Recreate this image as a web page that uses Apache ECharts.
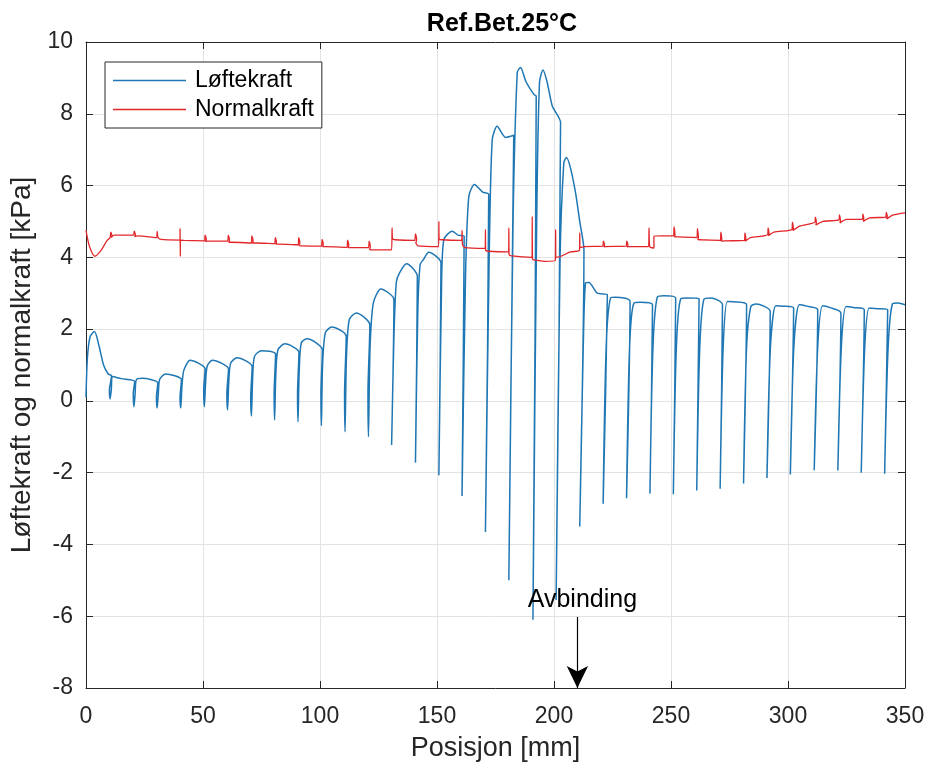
<!DOCTYPE html>
<html>
<head>
<meta charset="utf-8">
<script src="https://cdn.jsdelivr.net/npm/echarts@6/dist/echarts.min.js"></script>
<style>html,body{margin:0;padding:0;background:#fff;}#c{width:931px;height:771px;}</style>
</head>
<body>
<div id="c"></div>
<script>
// Løftekraft [x mm, kPa]
const liftPoints = [
 [0,0.1],[0.6,1.2],[1.8,1.8],[3.6,1.93],[5.5,1.55],[7.5,1.0],[9.5,0.75],[10.9,0.7],
 [10.0,0.3],[10.3,0.05],[10.8,0.3],[11.4,0.68],
 [15,0.62],[20.8,0.54],
 [20.2,0.2],[20.5,-0.16],[21.0,0.2],[21.5,0.59],
 [24,0.63],[30.7,0.5],
 [30.1,0.1],[30.4,-0.2],[30.9,0.2],[31.5,0.6],
 [34,0.75],[40.8,0.59],
 [40.2,0.1],[40.5,-0.2],[41.0,0.4],[41.8,0.85],
 [44.5,1.13],[50.9,0.89],
 [50.3,0.3],[50.6,-0.16],[51.1,0.5],[51.8,0.97],
 [54,1.13],[60.9,0.89],
 [60.2,0.2],[60.5,-0.25],[61.0,0.5],[61.8,1.05],
 [64.5,1.2],[71.0,0.95],
 [70.4,0.1],[70.7,-0.42],[71.2,0.6],[72.0,1.24],
 [75,1.4],[81.0,1.3],
 [80.4,0.2],[80.6,-0.53],[81.1,0.7],[82.0,1.42],
 [85,1.59],[91.0,1.35],
 [90.4,0.2],[90.6,-0.58],[91.1,0.8],[92.0,1.62],
 [94.5,1.73],[101.0,1.42],
 [100.4,0.2],[100.6,-0.69],[101.1,1.0],[102.3,1.9],
 [105,2.06],[111.2,1.8],
 [110.5,0.2],[110.7,-0.86],[111.3,1.2],[112.5,2.26],
 [115.5,2.45],[121.3,2.12],
 [120.5,0.2],[120.7,-1.0],[121.4,1.5],[122.8,2.73],
 [126,3.12],[131.6,2.82],
 [130.6,-1.23],[131.6,1.8],[132.6,3.3],[134,3.57],
 [137,3.82],[141.6,3.47],
 [140.8,-1.72],[141.8,2.5],[142.8,3.8],[144.2,3.94],
 [146.5,4.14],[151.7,3.85],
 [150.8,-2.07],[151.9,3.0],[152.9,4.49],
 [156.5,4.73],[159,4.62],[161.6,4.59],
 [160.7,-2.65],[162.2,3.5],[163.6,5.7],
 [166,6.03],[169.5,5.82],[172.1,5.75],
 [170.7,-3.65],[172.3,4.0],[173.6,7.28],
 [175.7,7.65],[179.3,7.34],[182.8,7.4],
 [180.7,-5.0],[182.5,5.0],[184.3,9.15],
 [185.7,9.29],[188,8.9],[191.4,8.54],[192.4,8.49],
 [191.0,-6.1],[192.6,5.0],[193.8,8.87],
 [195.3,9.22],[197,8.9],[199.3,8.21],[202.8,7.76],
 [200.9,-5.55],[202.6,4.0],[204.2,6.64],
 [205.3,6.78],[207,6.5],[209.2,5.8],[211,5.0],[212.8,4.2],
 [211.0,-3.5],[212.5,1.5],[213.5,3.29],
 [214.9,3.3],[218.5,3.0],[222.8,2.96],
 [221.0,-2.85],[222.3,1.5],[224.2,2.87],
 [226.4,2.89],[232.5,2.77],
 [231.0,-2.71],[232.3,1.5],[234.2,2.73],
 [237,2.75],[242.1,2.68],
 [241.0,-2.58],[242.3,1.5],[244.2,2.9],
 [247,2.93],[252,2.87],
 [251.0,-2.6],[252.3,1.5],[254.2,2.85],
 [257,2.87],[262,2.85],
 [261.0,-2.5],[262.3,1.5],[264.1,2.84],
 [267,2.87],[272,2.68],
 [271.0,-2.45],[272.3,1.5],[274.1,2.77],
 [277,2.76],[282.3,2.68],
 [281.0,-2.3],[282.3,1.5],[284.1,2.63],
 [286.3,2.7],[292.4,2.49],
 [291.0,-2.15],[292.5,1.5],[294.8,2.65],
 [298,2.64],[302.4,2.59],
 [301.0,-2.05],[302.5,1.5],[304.8,2.68],
 [308,2.64],[312.7,2.54],
 [311.2,-1.93],[312.7,1.5],[314.8,2.65],
 [318,2.6],[322.6,2.45],
 [321.3,-1.94],[322.8,1.5],[324.8,2.63],
 [328,2.6],[332.6,2.54],
 [331.3,-2.0],[332.8,1.5],[334.7,2.59],
 [338,2.57],[342.6,2.54],
 [341.3,-2.03],[342.8,1.5],[344.7,2.71],
 [347,2.73],[350,2.68]
];

// Normalkraft [x mm, kPa]
const normalPoints = [
 [0,4.75],[1.5,4.3],[3.8,4.03],[6.5,4.2],[9.0,4.47],
 [10.3,4.55],[10.6,4.7],[11.1,4.6],[10.8,4.55],[12,4.62],
 [20.3,4.62],[20.6,4.73],[21.1,4.62],[20.8,4.58],[22,4.6],
 [30.2,4.55],[30.4,4.72],[30.8,4.55],[32,4.5],
 [40.2,4.48],[40.2,4.8],[40.3,4.03],[40.4,4.48],[42,4.47],
 [50.6,4.46],[50.9,4.62],[51.4,4.5],[51.1,4.44],[52,4.45],
 [60.5,4.45],[60.8,4.62],[61.3,4.48],[61,4.42],[62,4.42],
 [70.6,4.4],[70.9,4.6],[71.4,4.45],[71.1,4.4],[72,4.4],
 [80.6,4.38],[80.9,4.55],[81.4,4.42],[81.1,4.37],[82,4.37],
 [90.6,4.35],[90.9,4.55],[91.4,4.4],[91.1,4.33],[92,4.32],
 [100.6,4.31],[100.9,4.5],[101.4,4.36],[101.1,4.3],[102,4.3],
 [111.5,4.28],[111.8,4.48],[112.3,4.34],[112,4.27],[113,4.27],
 [120.7,4.27],[121,4.45],[121.5,4.3],[121.2,4.22],[122,4.21],
 [130.6,4.21],[130.8,4.82],[131.0,4.52],[132,4.49],
 [140.4,4.47],[140.8,4.65],[141.3,4.5],[141,4.4],[142,4.32],
 [150.7,4.3],[150.8,5.0],[150.9,4.52],[152,4.49],
 [160.5,4.47],[160.7,4.75],[160.9,4.35],[162,4.27],
 [170.6,4.25],[170.7,4.77],[170.8,4.2],[172,4.17],
 [180.6,4.15],[180.7,4.82],[180.8,4.08],[182,4.04],
 [190.6,4.0],[190.7,5.14],[190.8,3.95],[192,3.92],[196,3.89],
 [200.6,3.92],[200.7,4.77],[200.8,4.0],[203,4.03],[207,4.15],
 [210.9,4.2],[211,4.68],[211.1,4.27],[213,4.3],
 [220.8,4.31],[221.1,4.45],[221.6,4.35],[221.3,4.29],[222,4.3],
 [230.8,4.31],[231.1,4.45],[231.6,4.35],[231.3,4.29],[232,4.3],
 [240.4,4.3],[240.6,4.82],[240.9,4.3],[242.7,4.26],[242.7,4.59],[246,4.6],
 [251.1,4.6],[251.3,4.85],[251.7,4.62],[251.5,4.57],[253,4.57],
 [261.1,4.55],[261.3,4.8],[261.7,4.55],[261.5,4.5],[263,4.49],
 [271.1,4.47],[271.3,4.7],[271.7,4.5],[271.5,4.45],[273,4.46],
 [281.4,4.47],[281.6,4.68],[282,4.5],[281.8,4.45],[284,4.55],
 [291.3,4.63],[291.5,4.82],[291.9,4.65],[291.7,4.6],[294,4.7],
 [301.7,4.78],[301.9,4.98],[302.3,4.8],[302.1,4.75],[305,4.87],
 [311.5,4.98],[311.7,5.12],[312.1,4.98],[311.9,4.9],[315,5.0],
 [321.8,5.05],[322,5.18],[322.4,5.03],[322.2,4.96],[325,5.06],
 [331.8,5.06],[332,5.2],[332.4,5.07],[332.2,5.0],[335,5.1],
 [341.8,5.12],[342,5.25],[342.4,5.15],[342.2,5.07],[345,5.18],
 [350,5.24]
];

const xTicks = {min: 0, max: 350, step: 50};
const yTicks = {min: -8, max: 10, step: 2};
const annotationX = 210;
const annotationYTop = -6.02;

const FONT = "'Liberation Sans', Arial, Helvetica, sans-serif";
const TXT = '#262626';
const GRIDC = '#e3e3e3';

const chart = echarts.init(document.getElementById('c'), null, {renderer: 'canvas'});

function mkX(pos, labels) {
  return {
    type: 'value', position: pos, min: xTicks.min, max: xTicks.max, interval: xTicks.step,
    axisLine: {show: true, onZero: false, lineStyle: {color: TXT, width: 1}},
    axisTick: {show: true, inside: true, length: 7, lineStyle: {color: TXT}},
    axisLabel: {show: labels, fontSize: 23, color: TXT, fontFamily: FONT, margin: 17},
    splitLine: {show: labels, lineStyle: {color: GRIDC, width: 1}},
    name: labels ? 'Posisjon [mm]' : '', nameLocation: 'middle', nameGap: 47,
    nameTextStyle: {fontSize: 27, color: TXT, fontFamily: FONT}
  };
}
function mkY(pos, labels) {
  return {
    type: 'value', position: pos, min: yTicks.min, max: yTicks.max, interval: yTicks.step,
    axisLine: {show: true, onZero: false, lineStyle: {color: TXT, width: 1}},
    axisTick: {show: true, inside: true, length: 7, lineStyle: {color: TXT}},
    axisLabel: {show: labels, fontSize: 23, color: TXT, fontFamily: FONT, margin: 13},
    splitLine: {show: labels, lineStyle: {color: GRIDC, width: 1}},
    name: labels ? 'Løftekraft og normalkraft [kPa]' : '', nameLocation: 'middle', nameGap: 42,
    nameRotate: 90,
    nameTextStyle: {fontSize: 28, color: TXT, fontFamily: FONT}
  };
}

chart.setOption({
  animation: false,
  backgroundColor: '#fff',
  title: {
    text: 'Ref.Bet.25°C', left: 497, top: 7, textAlign: 'center',
    textStyle: {fontSize: 25, fontWeight: 'bold', color: '#000', fontFamily: FONT}
  },
  grid: {left: 86, top: 42, right: 26, bottom: 83, containLabel: false},
  legend: {
    orient: 'vertical', left: 105, top: 62, icon: 'rect',
    padding: [7, 8, 7, 8], itemGap: 6, itemWidth: 73, itemHeight: 1.5,
    backgroundColor: '#fff', borderColor: TXT, borderWidth: 1,
    textStyle: {fontSize: 23, color: '#000', fontFamily: FONT, lineHeight: 23, padding: [0, 0, 0, 4]},
    data: ['Løftekraft', 'Normalkraft']
  },
  xAxis: [mkX('bottom', true), mkX('top', false)],
  yAxis: [mkY('left', true), mkY('right', false)],
  series: [
    {
      name: 'Løftekraft', type: 'line', data: liftPoints, showSymbol: false, symbol: 'none',
      smooth: 0.25, lineStyle: {color: '#1f77b4', width: 1.5}, itemStyle: {color: '#1f77b4'},
      z: 3,
      markLine: {
        silent: true, symbol: ['none', 'arrow'], symbolSize: [16, 22], animation: false,
        lineStyle: {color: '#000', width: 1.2, type: 'solid'},
        label: {show: true, position: 'start', formatter: 'Avbinding', fontSize: 25,
                color: '#000', fontFamily: FONT, distance: 4, offset: [5, 0]},
        emphasis: {disabled: true},
        data: [[{coord: [annotationX, annotationYTop]}, {coord: [annotationX, yTicks.min]}]]
      }
    },
    {
      name: 'Normalkraft', type: 'line', data: normalPoints, showSymbol: false, symbol: 'none',
      smooth: 0.25, lineStyle: {color: '#e3262a', width: 1.3}, itemStyle: {color: '#e3262a'},
      z: 4
    }
  ]
});
</script>
</body>
</html>
